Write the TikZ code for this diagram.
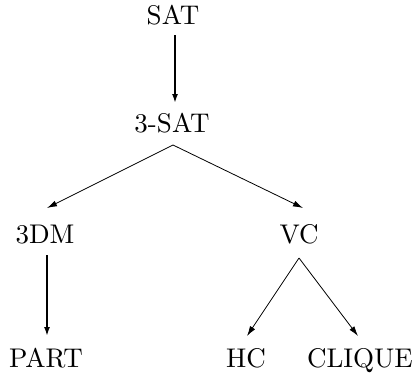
\documentclass[tikz,border=0pt]{standalone}
\usepackage{fontspec}
\setmainfont{lmroman10-regular}[Extension=.otf]
\usetikzlibrary{arrows.meta}
\begin{document}
\begin{tikzpicture}[x=1pt,y=-1pt,
  lbl/.style={anchor=base,inner sep=0pt,outer sep=0pt,text height=19pt,text depth=0pt,font=\fontsize{27}{32}\selectfont},
  thickarr/.style={line width=1.7pt,-{Latex[length=9pt,width=6pt]}},
  thinarr/.style={line width=0.8pt,-{Latex[length=10pt,width=6pt]}}]
\useasboundingbox (0,0) rectangle (414,373);
\node[lbl] (sat) at (173,24) {SAT};
\node[lbl] (tsat) at (172,132) {3-SAT};
\node[lbl] (dm) at (45,243) {3DM};
\node[lbl] (vc) at (299,243) {VC};
\node[lbl] (part) at (46,367) {PART};
\node[lbl] (hc) at (246,367) {HC};
\node[lbl] (clique) at (360,367) {CLIQUE};
\draw[thickarr] ([xshift=2pt,yshift=-11pt]sat.south) -- ([xshift=3pt,yshift=10pt]tsat.north);
\draw[thinarr] ([xshift=1pt,yshift=-13pt]tsat.south) -- ([xshift=2pt,yshift=16pt]dm.north);
\draw[thinarr] ([xshift=1pt,yshift=-13pt]tsat.south) -- ([xshift=4pt,yshift=16pt]vc.north);
\draw[thickarr] ([xshift=2pt,yshift=-12pt]dm.south) -- ([xshift=1pt,yshift=12pt]part.north);
\draw[thinarr] ([yshift=-15pt]vc.south) -- ([xshift=1pt,yshift=12pt]hc.north);
\draw[thinarr] ([yshift=-15pt]vc.south) -- ([xshift=-2pt,yshift=12pt]clique.north);
\end{tikzpicture}
\end{document}
